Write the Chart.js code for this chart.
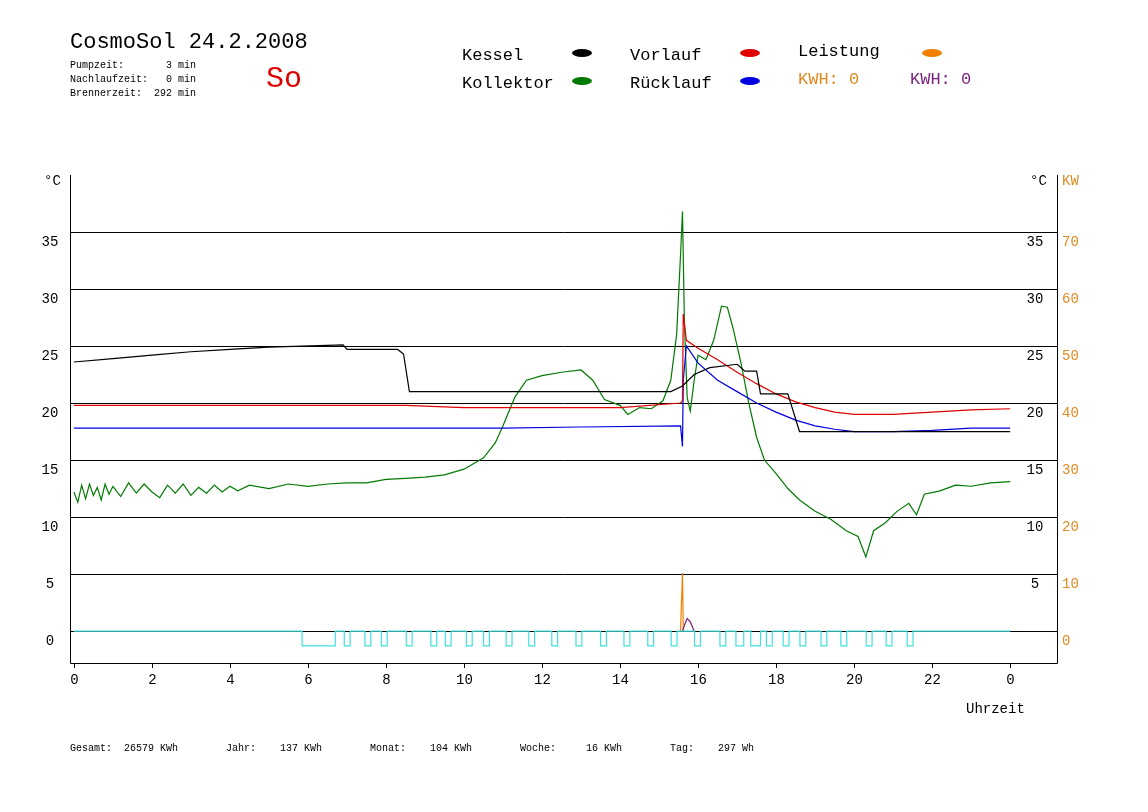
<!DOCTYPE html>
<html>
<head>
<meta charset="utf-8">
<script src="https://cdn.jsdelivr.net/npm/chart.js@4/dist/chart.umd.min.js"></script>
<style>
  body { margin: 0; background: #fff; }
  #wrap { position: relative; width: 1148px; height: 812px; font-family: "Liberation Mono", monospace; }
  canvas { position: absolute; left: 0; top: 0; }
  .t { position: absolute; white-space: pre; color: #000; }
</style>
</head>
<body>
<div id="wrap">
  <canvas id="chart" width="1148" height="812"></canvas>
  <div class="t" style="left:70px;top:30px;font-size:22px;">CosmoSol 24.2.2008</div>
  <div class="t" style="left:70px;top:59px;font-size:10px;line-height:14px;">Pumpzeit:       3 min
Nachlaufzeit:   0 min
Brennerzeit:  292 min</div>
  <div class="t" style="left:266px;top:62px;font-size:30px;color:#e00000;">So</div>
  <div class="t" style="left:462px;top:42px;font-size:17px;line-height:28px;">Kessel
Kollektor</div>
  <div class="t" style="left:630px;top:42px;font-size:17px;line-height:28px;">Vorlauf
Rücklauf</div>
  <div class="t" style="left:798px;top:42px;font-size:17px;">Leistung</div>
  <div class="t" style="left:798px;top:70px;font-size:17px;color:#e08a20;">KWH: 0</div>
  <div class="t" style="left:910px;top:70px;font-size:17px;color:#7a1f7a;">KWH: 0</div>
  <div class="t" style="left:966px;top:701px;font-size:14px;">Uhrzeit</div>
  <div class="t" style="left:70px;top:743px;font-size:10px;">Gesamt:  26579 KWh        Jahr:    137 KWh        Monat:    104 KWh        Woche:     16 KWh        Tag:    297 Wh</div>
</div>
<script>
// Stunden 0..24, Temperaturen in °C
const kessel = [[0,23.6],[1,23.9],[2,24.2],[3,24.5],[4,24.7],[5,24.9],[6.9,25.1],[7,24.7],[8.3,24.7],[8.45,24.3],[8.6,21],[15.3,21],[15.6,21.5],[15.9,22.5],[16.3,23.1],[17,23.4],[17.2,22.8],[17.5,22.8],[17.6,20.8],[18.3,20.8],[18.6,17.5],[24,17.5]];
const vorlauf = [[0,19.8],[6,19.8],[8.5,19.8],[10,19.6],[14,19.6],[15.55,20],[15.6,20.2],[15.62,27.8],[15.7,25.5],[16,24.8],[16.5,23.8],[17,22.7],[17.5,21.7],[18,20.8],[18.5,20.1],[19,19.6],[19.5,19.2],[20,19],[21,19],[22,19.2],[23,19.4],[24,19.5]];
const ruecklauf = [[0,17.8],[8,17.8],[11,17.8],[13,17.9],[15.55,18],[15.6,16.2],[15.62,22],[15.7,25],[16,23.5],[16.5,22],[17,21],[17.5,20],[18,19.2],[18.5,18.5],[19,18],[19.5,17.7],[20,17.5],[21,17.5],[22,17.6],[23,17.8],[24,17.8]];
const kollektor = [[0,12.2],[0.1,11.3],[0.2,12.8],[0.3,11.6],[0.4,12.9],[0.5,11.9],[0.6,12.6],[0.7,11.5],[0.8,12.9],[0.9,12],[1,12.7],[1.2,11.8],[1.4,13],[1.6,12.1],[1.8,12.9],[2,12.2],[2.2,11.7],[2.4,12.8],[2.6,12.1],[2.8,12.9],[3,11.9],[3.2,12.6],[3.4,12.1],[3.6,12.8],[3.8,12.2],[4,12.7],[4.2,12.3],[4.5,12.8],[5,12.5],[5.5,12.9],[6,12.7],[6.5,12.9],[7,13],[7.5,13],[8,13.3],[8.5,13.4],[9,13.5],[9.5,13.7],[10,14.2],[10.5,15.2],[10.8,16.5],[11,18],[11.3,20.5],[11.6,22],[12,22.4],[12.5,22.7],[13,22.9],[13.3,22],[13.6,20.3],[14,19.8],[14.2,19],[14.5,19.6],[14.8,19.5],[15.1,20.2],[15.3,22],[15.45,26],[15.55,33],[15.6,36.8],[15.65,27],[15.72,20.5],[15.8,19.3],[15.9,22],[16,24.2],[16.2,23.8],[16.4,25.5],[16.6,28.5],[16.75,28.4],[16.9,26.5],[17.1,23.5],[17.3,20],[17.5,17],[17.7,15],[18,13.8],[18.3,12.5],[18.6,11.5],[19,10.5],[19.4,9.8],[19.8,8.8],[20.1,8.3],[20.3,6.5],[20.5,8.8],[20.8,9.5],[21.1,10.5],[21.4,11.2],[21.6,10.2],[21.8,12],[22.2,12.3],[22.6,12.8],[23,12.7],[23.5,13],[24,13.1]];
const leistung = [[15.55,0],[15.6,5.1],[15.62,0]];
const leistung2 = [[15.6,0],[15.68,0.8],[15.72,1.1],[15.8,0.8],[15.9,0]];
const pumpeStart = [5.85,6.93,7.46,7.88,8.52,9.15,9.52,10.06,10.5,11.08,11.66,12.25,12.87,13.5,14.1,14.71,15.31,15.91,16.56,16.97,17.35,17.75,18.18,18.61,19.15,19.66,20.31,20.82,21.36];
const pumpeDauer = [0.85,0.15,0.15,0.15,0.15,0.15,0.15,0.15,0.15,0.15,0.15,0.15,0.15,0.15,0.15,0.15,0.15,0.15,0.15,0.2,0.25,0.15,0.15,0.15,0.15,0.15,0.15,0.15,0.15];
const yTicks = [0,5,10,15,20,25,30,35];
const xTicks = [0,2,4,6,8,10,12,14,16,18,20,22,24];

const pumpe = [[0, 0]];
pumpeStart.forEach((t, i) => {
  pumpe.push([t, 0], [t, -1.3], [t + pumpeDauer[i], -1.3], [t + pumpeDauer[i], 0]);
});
pumpe.push([24, 0]);

const line = (data, color) => ({ data: data.map(p => ({ x: p[0], y: p[1] })), borderColor: color, borderWidth: 1.2, pointRadius: 0, showLine: true, fill: false, tension: 0 });

const axesPlugin = {
  id: 'axes',
  beforeDatasetsDraw(chart) {
    const { ctx, chartArea: a, scales: { x, y } } = chart;
    ctx.save();
    ctx.strokeStyle = '#000';
    ctx.lineWidth = 1;
    yTicks.forEach(v => {
      const py = Math.round(y.getPixelForValue(v)) + 0.5;
      ctx.beginPath(); ctx.moveTo(a.left, py); ctx.lineTo(a.right, py); ctx.stroke();
    });
    ctx.beginPath();
    ctx.moveTo(a.left + 0.5, a.top); ctx.lineTo(a.left + 0.5, a.bottom + 0.5);
    ctx.lineTo(a.right + 0.5, a.bottom + 0.5); ctx.lineTo(a.right + 0.5, a.top);
    ctx.stroke();
    ctx.font = '14px "Liberation Mono"';
    ctx.textBaseline = 'middle';
    yTicks.forEach(v => {
      const py = y.getPixelForValue(v) + 10;
      ctx.fillStyle = '#000'; ctx.textAlign = 'center';
      ctx.fillText(String(v), 50, py);
      if (v > 0) ctx.fillText(String(v), 1035, py);
      ctx.fillStyle = '#e08a20'; ctx.textAlign = 'left';
      ctx.fillText(String(v * 2), 1062, py);
    });
    ctx.fillStyle = '#000'; ctx.textAlign = 'left';
    ctx.fillText('°C', 44, 181);
    ctx.fillText('°C', 1030, 181);
    ctx.fillStyle = '#e08a20';
    ctx.fillText('KW', 1062, 181);
    ctx.fillStyle = '#000'; ctx.textAlign = 'center';
    xTicks.forEach(v => {
      const px = Math.round(x.getPixelForValue(v)) + 0.5;
      ctx.beginPath(); ctx.moveTo(px, a.bottom); ctx.lineTo(px, a.bottom + 5); ctx.stroke();
      ctx.fillText(String(v % 24), px, a.bottom + 17);
    });
    ctx.restore();
  }
};

new Chart(document.getElementById('chart'), {
  type: 'scatter',
  data: {
    datasets: [
      line(pumpe, '#40e0e0'),
      line(kessel, '#000000'),
      line(vorlauf, '#e00000'),
      line(ruecklauf, '#0000e0'),
      line(kollektor, '#007a00'),
      line(leistung2, '#7a1f7a'),
      line(leistung, '#f08000'),
    ],
  },
  options: {
    responsive: false,
    animation: false,
    layout: { padding: { left: 70, right: 91, top: 175, bottom: 149 } },
    plugins: { legend: { display: false }, tooltip: { enabled: false } },
    scales: {
      x: { type: 'linear', min: -0.1, max: 25.2, display: false },
      y: { min: -2.8, max: 40, display: false },
    },
  },
  plugins: [axesPlugin, {
    id: 'legendMarks',
    afterDraw(chart) {
      const ctx = chart.ctx;
      const marks = [[582, 53, '#000'], [582, 81, '#007a00'], [750, 53, '#e00000'], [750, 81, '#0000e0'], [932, 53, '#f08000']];
      marks.forEach(([mx, my, c]) => {
        ctx.fillStyle = c;
        ctx.beginPath(); ctx.ellipse(mx, my, 10, 4, 0, 0, Math.PI * 2); ctx.fill();
      });
    }
  }],
});
</script>
</body>
</html>
